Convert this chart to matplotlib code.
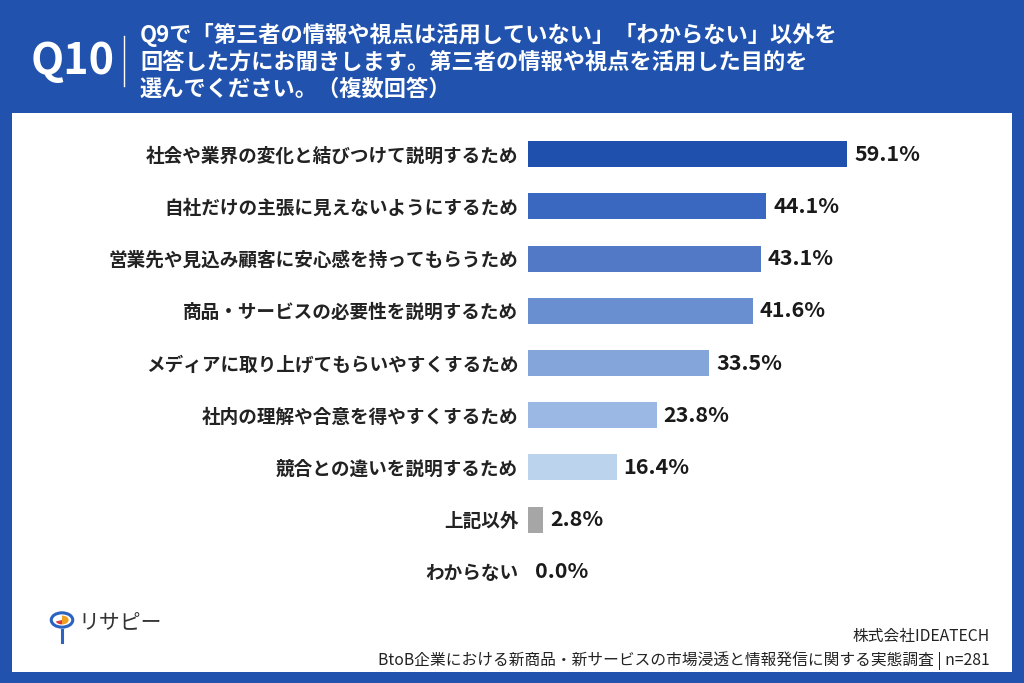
import matplotlib
matplotlib.use("Agg")
import matplotlib.pyplot as plt
from matplotlib.patches import Rectangle, Circle, Wedge

plt.rcParams['font.family'] = ['Noto Sans CJK JP', 'DejaVu Sans']

categories = [
    "社会や業界の変化と結びつけて説明するため",
    "自社だけの主張に見えないようにするため",
    "営業先や見込み顧客に安心感を持ってもらうため",
    "商品・サービスの必要性を説明するため",
    "メディアに取り上げてもらいやすくするため",
    "社内の理解や合意を得やすくするため",
    "競合との違いを説明するため",
    "上記以外",
    "わからない",
]
values = [59.1, 44.1, 43.1, 41.6, 33.5, 23.8, 16.4, 2.8, 0.0]
colors = ["#1f50ad", "#3a67bf", "#5279c5", "#6a8fd0", "#83a5da",
          "#9ab8e3", "#bcd3ee", "#a6a6a6", "#a6a6a6"]

title_lines = [
    "Q9で「第三者の情報や視点は活用していない」「わからない」以外を",
    "回答した方にお聞きします。第三者の情報や視点を活用した目的を",
    "選んでください。（複数回答）",
]
footer1 = "株式会社IDEATECH"
footer2 = "BtoB企業における新商品・新サービスの市場浸透と情報発信に関する実態調査 | n=281"

W, H = 1024, 683
fig = plt.figure(figsize=(W / 100, H / 100), dpi=100)
fig.patch.set_facecolor("#2153ae")

def fx(px):
    return px / W

def fy(py):
    return 1 - py / H

# white panel
fig.patches.append(Rectangle((fx(12), fy(672)), fx(1012) - fx(12), fy(113) - fy(672),
                             transform=fig.transFigure, facecolor="white",
                             edgecolor="none", zorder=-5))

# header
fig.text(fx(73), fy(61), "Q10", color="white", fontsize=31, fontweight="bold",
         ha="center", va="center")
fig.add_artist(plt.Line2D([fx(124), fx(124)], [fy(36), fy(86)], color="white",
                          lw=1, transform=fig.transFigure))
for i, line in enumerate(title_lines):
    fig.text(fx(140), fy(35 + 27 * i), line, color="white", fontsize=16,
             fontweight="bold", ha="left", va="center")

# bars
ax = fig.add_axes([fx(528), fy(598), fx(1000) - fx(528), fy(128) - fy(598)])
ax.set_zorder(3)
ax.set_facecolor("none")
y = list(range(len(categories)))
ax.barh(y, values, height=0.5, color=colors, zorder=2)
ax.set_ylim(len(categories) - 0.5, -0.5)
ax.set_xlim(0, (1000 - 528) / 5.4)
for spine in ax.spines.values():
    spine.set_visible(False)
ax.set_xticks([])
ax.set_yticks(y)
ax.set_yticklabels(categories, fontsize=13.4, fontweight="bold", color="#222222")
ax.tick_params(axis="y", length=0, pad=7)
for yi, v in zip(y, values):
    ax.text(v + 1.3, yi, f"{v:.1f}%", va="center", ha="left", fontsize=15.5,
            fontweight="bold", color="#1a1a1a")

# logo
cx, cy = fx(62), fy(620)
fig.add_artist(Circle((cx, cy), 0.0105, transform=fig.transFigure,
                      facecolor="white", edgecolor="#2a63c2", lw=2.2))
fig.add_artist(Wedge((cx, cy), 0.0065, 270, 90, transform=fig.transFigure,
                     facecolor="#f0a020", edgecolor="none"))
fig.add_artist(Wedge((cx, cy), 0.0065, 200, 270, transform=fig.transFigure,
                     facecolor="#e03a3a", edgecolor="none"))
fig.add_artist(plt.Line2D([cx, cx], [fy(630), fy(642)], color="#2a63c2",
                          lw=2.2, transform=fig.transFigure))
fig.text(fx(78), fy(623), "リサピー", fontsize=15, color="#333333",
         ha="left", va="center")

# footer
fig.text(fx(990), fy(636), footer1, fontsize=11.3, ha="right", va="center",
         color="#222222")
fig.text(fx(990), fy(661), footer2, fontsize=11.3, ha="right", va="center",
         color="#222222")

fig.savefig("out.png", dpi=100, facecolor=fig.get_facecolor())
